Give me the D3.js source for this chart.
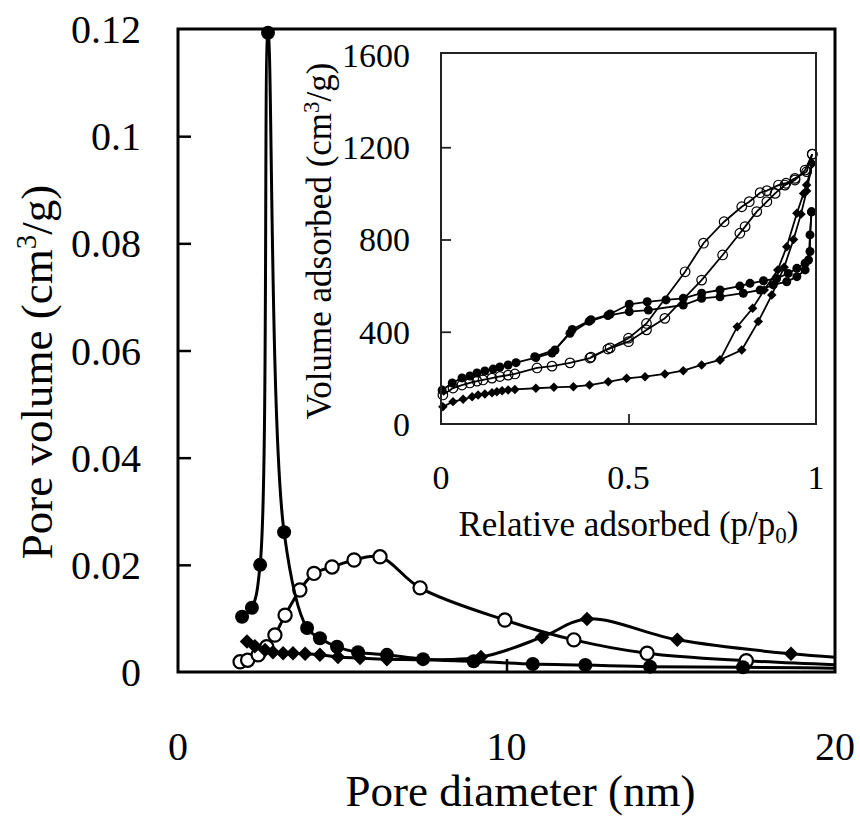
<!DOCTYPE html>
<html>
<head>
<meta charset="utf-8">
<script src="https://cdn.jsdelivr.net/npm/d3@7"></script>
<style>
  body { margin: 0; background: #fff; }
  text { font-family: "Liberation Serif", "Times New Roman", serif; fill: #000; }
</style>
</head>
<body>
<div id="chart"></div>
<script>
// pore size distributions: [pore diameter (nm), pore volume (cm3/g)]
var filledPsd = [[1.95,0.0103],[2.25,0.012],[2.5,0.0200],[2.74,0.1193],[3.23,0.0261],[3.93,0.0082],
  [4.32,0.0063],[4.84,0.0047],[5.48,0.0037],[6.36,0.0032],[7.46,0.0024],[9.0,0.0020],[10.8,0.0015],
  [12.4,0.0013],[14.37,0.0010],[17.2,0.0009],[21.5,0.0006]];
var openPsd = [[1.89,0.0019],[2.12,0.0022],[2.44,0.0032],[2.7,0.0047],[2.95,0.0069],[3.26,0.0106],
  [3.71,0.0153],[4.14,0.0184],[4.69,0.0196],[5.36,0.0209],[6.15,0.0215],[7.37,0.0157],[9.95,0.0097],
  [12.05,0.0060],[14.28,0.0035],[17.3,0.0021],[21.5,0.0010]];
var diamondPsd = [[2.1,0.0057],[2.34,0.0048],[2.65,0.0041],[2.89,0.0037],[3.2,0.0035],[3.5,0.0035],
  [3.87,0.0034],[4.32,0.0032],[4.87,0.0028],[5.54,0.0026],[6.36,0.0024],[9.22,0.0028],[11.08,0.0065],
  [12.45,0.0099],[15.2,0.0060],[18.66,0.0034],[21.5,0.0022]];

// isotherms: [p/p0, volume adsorbed (cm3/g)]
var filledAds = [[0.003,147],[0.03,178],[0.056,200],[0.077,208],[0.096,221],[0.117,230],[0.139,238],
  [0.157,247],[0.179,256],[0.2,266],[0.253,288],[0.296,308],[0.344,393],[0.395,445],[0.445,470],
  [0.502,487],[0.553,494],[0.646,516],[0.695,545],[0.744,552],[0.806,567],[0.851,581],[0.886,603],
  [0.922,617],[0.949,639],[0.971,668],[0.98,711],[0.988,920]];
var filledDes = [[0.988,920],[0.984,820],[0.984,748],[0.971,697],[0.949,675],[0.926,653],[0.895,631],
  [0.86,621],[0.824,610],[0.797,598],[0.744,581],[0.695,567],[0.646,545],[0.6,538],[0.55,530],
  [0.502,519],[0.451,477],[0.4,452],[0.35,410],[0.304,321],[0.25,292]];
var openAds = [[0.005,126],[0.032,156],[0.056,169],[0.077,178],[0.096,186],[0.112,191],[0.136,199],
  [0.157,206],[0.179,212],[0.197,217],[0.256,243],[0.296,251],[0.344,265],[0.397,286],[0.445,325],
  [0.5,357],[0.548,408],[0.597,458],[0.695,624],[0.751,733],[0.797,827],[0.811,856],[0.842,921],
  [0.869,964],[0.891,1000],[0.917,1036],[0.944,1058],[0.971,1101],[0.99,1170]];
var openDes = [[0.99,1170],[0.975,1094],[0.944,1065],[0.92,1044],[0.9,1036],[0.869,1012],[0.851,1003],
  [0.822,964],[0.802,942],[0.755,877],[0.7,784],[0.651,660],[0.548,436],[0.5,372],[0.451,330],[0.4,290]];
var diamondAds = [[0.005,75],[0.032,97],[0.059,107],[0.083,118],[0.099,126],[0.117,130],[0.136,136],
  [0.149,140],[0.163,144],[0.179,147],[0.197,150],[0.253,155],[0.301,159],[0.353,162],[0.396,169],
  [0.446,183],[0.495,198],[0.544,205],[0.597,217],[0.646,231],[0.695,256],[0.744,278],[0.802,321],
  [0.846,444],[0.882,559],[0.915,680],[0.94,800],[0.96,910],[0.975,1010],[0.99,1130]];
var diamondDes = [[0.99,1130],[0.975,1036],[0.967,1000],[0.949,914],[0.922,769],[0.898,668],
  [0.862,581],[0.831,502],[0.79,422],[0.744,278]];

var mainXTicks = [0, 10, 20];
var mainYTicks = [0, 0.02, 0.04, 0.06, 0.08, 0.1, 0.12];
var insetXTicks = [0, 0.5, 1];
var insetYTicks = [0, 400, 800, 1200, 1600];

var W = 860, H = 820;
var svg = d3.select("#chart").append("svg").attr("width", W).attr("height", H);

// ---------- main chart ----------
var m = {left: 178, top: 29, right: 835, bottom: 672};
var x = d3.scaleLinear().domain([0, 20]).range([m.left, m.right]);
var y = d3.scaleLinear().domain([0, 0.12]).range([m.bottom, m.top]);

svg.append("clipPath").attr("id", "mainClip").append("rect")
  .attr("x", m.left).attr("y", m.top - 10).attr("width", m.right - m.left).attr("height", m.bottom - m.top + 20);

// inward ticks
svg.append("g").attr("transform", "translate(" + m.left + ",0)")
  .call(d3.axisRight(y).tickValues(mainYTicks.slice(1, -1)).tickSize(13).tickFormat(""))
  .call(g => g.select(".domain").remove())
  .call(g => g.selectAll("line").attr("stroke", "#000").attr("stroke-width", 2.5));
svg.append("g").attr("transform", "translate(0," + m.bottom + ")")
  .call(d3.axisTop(x).tickValues([10]).tickSize(13).tickFormat(""))
  .call(g => g.select(".domain").remove())
  .call(g => g.selectAll("line").attr("stroke", "#000").attr("stroke-width", 2.5));

// tick labels
svg.append("g").selectAll("text").data(mainYTicks).join("text")
  .attr("x", 141).attr("y", d => y(d)).attr("dy", "0.35em")
  .attr("text-anchor", "end").attr("font-size", 40)
  .text(d => d === 0 ? "0" : d3.format(".2~f")(d));
svg.append("g").selectAll("text").data(mainXTicks).join("text")
  .attr("x", d => x(d)).attr("y", 760)
  .attr("text-anchor", "middle").attr("font-size", 40)
  .text(d => d);

svg.append("text").attr("x", x(10) + 14).attr("y", 806).attr("text-anchor", "middle")
  .attr("font-size", 45).text("Pore diameter  (nm)");
var yt = svg.append("text").attr("transform", "translate(52," + 372 + ") rotate(-90)")
  .attr("text-anchor", "middle").attr("font-size", 45);
yt.append("tspan").text("Pore volume (cm");
yt.append("tspan").attr("font-size", 29).attr("dy", -16).text("3");
yt.append("tspan").attr("dy", 16).text("/g)");

var mainLine = d3.line().x(d => x(d[0])).y(d => y(d[1])).curve(d3.curveCatmullRom.alpha(0.5));
var plot = svg.append("g").attr("clip-path", "url(#mainClip)");

function drawPsd(data, kind) {
  plot.append("path").datum(data).attr("d", mainLine)
    .attr("fill", "none").attr("stroke", "#000").attr("stroke-width", 3);
  var pts = plot.append("g").selectAll("path").data(data.filter(d => d[0] <= 20)).join("path")
    .attr("transform", d => "translate(" + x(d[0]) + "," + y(d[1]) + ")" + (kind === "diamond" ? " rotate(45)" : ""));
  if (kind === "filled") pts.attr("d", d3.symbol(d3.symbolCircle, Math.PI * 7 * 7)).attr("fill", "#000");
  if (kind === "open") pts.attr("d", d3.symbol(d3.symbolCircle, Math.PI * 6.6 * 6.6)).attr("fill", "#fff")
    .attr("stroke", "#000").attr("stroke-width", 2.2);
  if (kind === "diamond") pts.attr("d", d3.symbol(d3.symbolSquare, 105)).attr("fill", "#000");
}
drawPsd(openPsd, "open");
drawPsd(diamondPsd, "diamond");
drawPsd(filledPsd, "filled");

// main frame
svg.append("rect").attr("x", m.left).attr("y", m.top).attr("width", m.right - m.left).attr("height", m.bottom - m.top)
  .attr("fill", "none").attr("stroke", "#000").attr("stroke-width", 3);

// ---------- inset ----------
var n = {left: 441, top: 53, right: 816, bottom: 424};
var ix = d3.scaleLinear().domain([0, 1]).range([n.left, n.right]);
var iy = d3.scaleLinear().domain([0, 1600]).range([n.bottom, 55]);

svg.append("rect").attr("x", n.left).attr("y", n.top).attr("width", n.right - n.left).attr("height", n.bottom - n.top)
  .attr("fill", "#fff");

svg.append("g").attr("transform", "translate(" + n.left + ",0)")
  .call(d3.axisRight(iy).tickValues(insetYTicks.slice(1, -1)).tickSize(10).tickFormat(""))
  .call(g => g.select(".domain").remove())
  .call(g => g.selectAll("line").attr("stroke", "#222").attr("stroke-width", 1.8));
svg.append("g").attr("transform", "translate(0," + n.bottom + ")")
  .call(d3.axisTop(ix).tickValues([0.5]).tickSize(10).tickFormat(""))
  .call(g => g.select(".domain").remove())
  .call(g => g.selectAll("line").attr("stroke", "#222").attr("stroke-width", 1.8));

svg.append("g").selectAll("text").data(insetYTicks).join("text")
  .attr("x", 410).attr("y", d => iy(d)).attr("dy", "0.35em")
  .attr("text-anchor", "end").attr("font-size", 34).text(d => d);
svg.append("g").selectAll("text").data(insetXTicks).join("text")
  .attr("x", d => ix(d)).attr("y", 489)
  .attr("text-anchor", "middle").attr("font-size", 34).text(d => d);

var xt = svg.append("text").attr("x", ix(0.5)).attr("y", 536).attr("text-anchor", "middle").attr("font-size", 35);
xt.append("tspan").text("Relative adsorbed (p/p");
xt.append("tspan").attr("font-size", 23).attr("dy", 7).text("0");
xt.append("tspan").attr("dy", -7).text(")");
var it = svg.append("text").attr("transform", "translate(331," + 241 + ") rotate(-90)")
  .attr("text-anchor", "middle").attr("font-size", 35);
it.append("tspan").text("Volume adsorbed (cm");
it.append("tspan").attr("font-size", 23).attr("dy", -12).text("3");
it.append("tspan").attr("dy", 12).text("/g)");

var insetLine = d3.line().x(d => ix(d[0])).y(d => iy(d[1]));
var inset = svg.append("g");

function drawIso(data, kind) {
  inset.append("path").datum(data).attr("d", insetLine)
    .attr("fill", "none").attr("stroke", "#000").attr("stroke-width", 1.8);
  var pts = inset.append("g").selectAll("path").data(data).join("path")
    .attr("transform", d => "translate(" + ix(d[0]) + "," + iy(d[1]) + ")" + (kind === "diamond" ? " rotate(45)" : ""));
  if (kind === "filled") pts.attr("d", d3.symbol(d3.symbolCircle, Math.PI * 4.5 * 4.5)).attr("fill", "#000");
  if (kind === "open") pts.attr("d", d3.symbol(d3.symbolCircle, Math.PI * 4.8 * 4.8)).attr("fill", "none")
    .attr("stroke", "#000").attr("stroke-width", 1.2);
  if (kind === "diamond") pts.attr("d", d3.symbol(d3.symbolSquare, 45)).attr("fill", "#000");
}
drawIso(diamondAds, "diamond");
drawIso(diamondDes, "diamond");
drawIso(openAds, "open");
drawIso(openDes, "open");
drawIso(filledAds, "filled");
drawIso(filledDes, "filled");

svg.append("rect").attr("x", n.left).attr("y", n.top).attr("width", n.right - n.left).attr("height", n.bottom - n.top)
  .attr("fill", "none").attr("stroke", "#222").attr("stroke-width", 2);
</script>
</body>
</html>
